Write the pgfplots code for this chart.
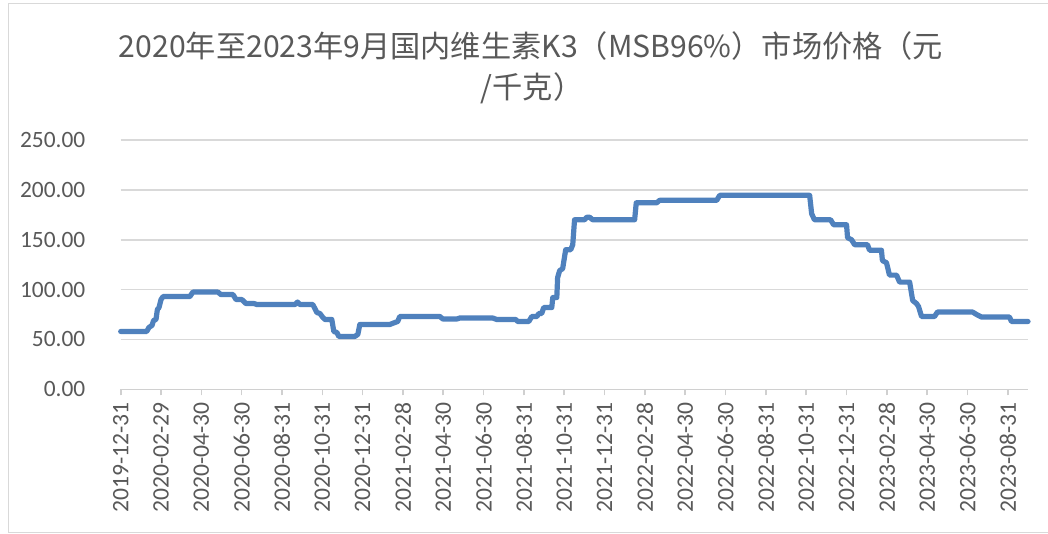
\documentclass[border=0pt]{standalone}
\usepackage{pgfplots}
\pgfplotsset{compat=1.18}
\usepackage{fontspec}
\setmainfont{Carlito}
\newfontfamily\cjk{Noto Sans CJK SC}
\definecolor{txtgray}{HTML}{595959}
\definecolor{gridgray}{HTML}{D9D9D9}
\definecolor{axisgray}{HTML}{D0D0D0}
\definecolor{lineblue}{HTML}{4F81BD}
\begin{document}
\begin{tikzpicture}
\useasboundingbox (0,0) rectangle (524pt,-267pt);
\fill[white] (0,0) rectangle (524pt,-267pt);
\draw[gridgray, line width=0.8pt] (530pt,-1.75pt) -- (4.25pt,-1.75pt) -- (4.25pt,-266.3pt) -- (530pt,-266.3pt);
\node[txtgray, font=\cjk\fontsize{15.1}{18}\selectfont] at (265.5pt,-23pt) {2020年至2023年9月国内维生素K3（MSB96\%）市场价格（元};
\node[txtgray, font=\cjk\fontsize{15.1}{18}\selectfont] at (266pt,-44pt) {/千克）};
\begin{axis}[
  at={(60.35pt,-194.65pt)}, anchor=south west,
  scale only axis, width=453.65pt, height=124.65pt,
  xmin=0, xmax=45, ymin=0, ymax=250,
  axis x line*=bottom, axis y line*=left,
  x axis line style={-, draw=axisgray, line width=0.8pt},
  y axis line style={-, draw=none},
  ytick={0,50,...,250},
  ymajorgrids, grid style={draw=gridgray, line width=0.8pt},
  xtick={0,2,...,44},
  xticklabels={2019-12-31,2020-02-29,2020-04-30,2020-06-30,2020-08-31,2020-10-31,2020-12-31,2021-02-28,2021-04-30,2021-06-30,2021-08-31,2021-10-31,2021-12-31,2022-02-28,2022-04-30,2022-06-30,2022-08-31,2022-10-31,2022-12-31,2023-02-28,2023-04-30,2023-06-30,2023-08-31},
  x tick style={draw=axisgray, line width=0.8pt},
  y tick style={draw=none},
  tick align=outside, major tick length=3pt,
  x tick label style={yshift=-3.5pt, rotate=90, anchor=east, inner sep=0pt, text=txtgray, font=\fontsize{11.8}{13}\selectfont},
  y tick label style={anchor=east, inner sep=0pt, xshift=-14.5pt, text=txtgray, font=\fontsize{11.7}{13}\selectfont},
  /pgf/number format/assume math mode=true,
  yticklabel={\pgfmathprintnumber[fixed, fixed zerofill, precision=2]{\tick}},
  clip=false,
]
\addplot[lineblue, line width=2.6pt, line join=round, line cap=round] coordinates {
(0,58) (1.29,58) (1.40,62) (1.55,64) (1.63,69) (1.75,70) (1.82,80) (1.90,82) (2.00,90) (2.10,93)
(3.43,93) (3.58,97.5) (4.82,97.5) (4.97,95) (5.57,95) (5.72,90) (6.01,90) (6.21,86) (6.61,86) (6.76,85)
(8.64,85) (8.77,87.5) (8.89,85) (9.53,85) (9.73,77) (9.88,76) (10.03,72) (10.13,70) (10.47,70) (10.57,58)
(10.72,57) (10.82,53) (11.61,53) (11.76,55) (11.86,65) (13.35,65) (13.60,67) (13.74,68) (13.84,73) (15.83,73)
(15.98,70.5) (16.67,70.5) (16.82,71.5) (18.45,71.5) (18.65,70) (19.59,70) (19.69,68) (20.24,68) (20.39,73) (20.64,73)
(20.74,76) (20.88,76) (20.98,82) (21.38,82) (21.43,92) (21.63,92) (21.67,112) (21.77,119) (21.92,121) (22.07,140)
(22.32,140) (22.42,145) (22.51,170) (23.01,170) (23.11,172.5) (23.26,172.5) (23.41,170) (25.49,170) (25.57,187) (26.58,187)
(26.73,189.5) (29.56,189.5) (29.71,194.5) (34.17,194.5) (34.27,176) (34.41,170) (35.21,170) (35.36,165) (36.00,165) (36.05,152)
(36.25,150) (36.40,145) (37.04,145) (37.14,139.5) (37.73,139.5) (37.78,129) (37.98,127) (38.13,114.5) (38.48,114.5) (38.63,107.5)
(39.13,107.5) (39.28,89) (39.47,86) (39.57,83) (39.72,73) (40.36,73) (40.51,77.5) (42.25,77.5) (42.45,75) (42.69,72.5)
(44.08,72.5) (44.18,68) (45.0,68)
};
\end{axis}
\end{tikzpicture}
\end{document}
